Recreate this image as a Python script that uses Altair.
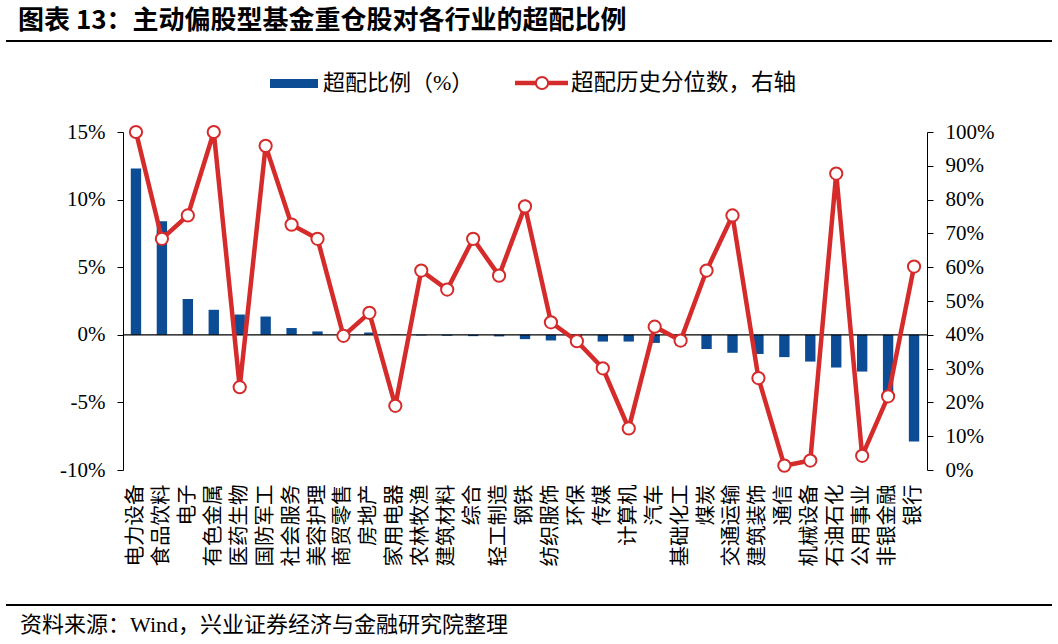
import altair as alt
import pandas as pd

categories = ["电力设备", "食品饮料", "电子", "有色金属", "医药生物", "国防军工", "社会服务", "美容护理",
              "商贸零售", "房地产", "家用电器", "农林牧渔", "建筑材料", "综合", "轻工制造", "钢铁",
              "纺织服饰", "环保", "传媒", "计算机", "汽车", "基础化工", "煤炭", "交通运输", "建筑装饰",
              "通信", "机械设备", "石油石化", "公用事业", "非银金融", "银行"]
overweight = [12.3, 8.4, 2.65, 1.85, 1.5, 1.35, 0.5, 0.25, 0.05, 0.17, 0.03, -0.05, -0.07, -0.1, -0.12,
              -0.32, -0.42, -0.45, -0.5, -0.5, -0.6, -0.8, -1.05, -1.33, -1.42, -1.65, -1.98, -2.42,
              -2.72, -4.4, -7.9]
percentile = [100, 68.4, 75.3, 100, 24.5, 95.9, 72.6, 68.4, 39.7, 46.5, 19.0, 59.0, 53.4, 68.4, 57.5,
              78.0, 43.7, 38.1, 30.1, 12.3, 42.4, 38.3, 59.0, 75.3, 27.2, 1.3, 2.8, 87.7, 4.2, 21.8, 60.2]
left_ticks = [-10, -5, 0, 5, 10, 15]
right_ticks = [0, 10, 20, 30, 40, 50, 60, 70, 80, 90, 100]

title_text = "图表 13：主动偏股型基金重仓股对各行业的超配比例"
legend_bar = "超配比例（%）"
legend_line = "超配历史分位数，右轴"
source_text = "资料来源：Wind，兴业证券经济与金融研究院整理"

BLUE = "#0b4c95"
RED = "#d52b2b"
CJK = "Noto Sans CJK SC"
NUM = "Liberation Serif"

df = pd.DataFrame({"cat": categories, "over": overweight, "pct": percentile})
one = pd.DataFrame({"k": [0]})

W, H = 804, 338
PL, PT = 123, 132

xenc = alt.X("cat:N", sort=categories, title=None,
             scale=alt.Scale(paddingInner=0.6, paddingOuter=0.3),
             axis=alt.Axis(labelAngle=270, domain=False, ticks=False, labelPadding=14,
                           labelFont=CJK, labelFontSize=20.5, labelColor="#000"))

left_scale = alt.Scale(domain=[-10, 15], nice=False, zero=False)
right_scale = alt.Scale(domain=[0, 100], nice=False, zero=False)

axis_common = dict(domainColor="#000", tickColor="#000", tickSize=6, domainWidth=1, tickWidth=1,
                   labelFont=NUM, labelFontSize=21, labelColor="#000", grid=False, labelPadding=12,
                   labelOverlap=False, labelExpr="datum.value + '%'")
right_axis = alt.Axis(values=right_ticks, orient="right", **axis_common)

bars = alt.Chart(df).mark_bar(color=BLUE).encode(
    x=xenc,
    y=alt.Y("over:Q", scale=left_scale, title=None,
            axis=alt.Axis(values=left_ticks, orient="left", **axis_common)),
)
zero = alt.Chart(one).mark_rule(color="#000", strokeWidth=1.2).encode(
    y=alt.datum(0)
)
left_layer = alt.layer(bars, zero)

line = alt.Chart(df).mark_line(color=RED, strokeWidth=4.5).encode(
    x=alt.X("cat:N", sort=categories),
    y=alt.Y("pct:Q", scale=right_scale, title=None, axis=right_axis),
)
points = alt.Chart(df).mark_point(shape="circle", filled=True, fill="white", stroke=RED,
                                  strokeWidth=2, size=150, opacity=1).encode(
    x=alt.X("cat:N", sort=categories),
    y=alt.Y("pct:Q", scale=right_scale, title=None, axis=right_axis),
)
right_layer = alt.layer(line, points)

# decorations (title, rules, legend, source)
title = alt.Chart(one).mark_text(text=title_text, font=CJK, fontSize=26, fontWeight="bold",
                                 align="left", baseline="middle", color="#000").encode(
    x=alt.value(18 - PL), y=alt.value(21 - PT))
top_rule = alt.Chart(one).mark_rule(color="#000", strokeWidth=2).encode(
    x=alt.value(6 - PL), x2=alt.value(1052 - PL), y=alt.value(41 - PT))
bottom_rule = alt.Chart(one).mark_rule(color="#000", strokeWidth=2).encode(
    x=alt.value(6 - PL), x2=alt.value(1052 - PL), y=alt.value(605 - PT))
source = alt.Chart(one).mark_text(text=source_text, font=f"{NUM}, {CJK}", fontSize=22,
                                  align="left", baseline="middle", color="#000").encode(
    x=alt.value(20 - PL), y=alt.value(625 - PT))
leg_rect = alt.Chart(one).mark_rect(color=BLUE).encode(
    x=alt.value(270 - PL), x2=alt.value(318 - PL), y=alt.value(79 - PT), y2=alt.value(88 - PT))
leg_text1 = alt.Chart(one).mark_text(text=legend_bar, font=f"{NUM}, {CJK}", fontSize=22,
                                     align="left", baseline="middle", color="#000").encode(
    x=alt.value(323 - PL), y=alt.value(83 - PT))
leg_line = alt.Chart(one).mark_rule(color=RED, strokeWidth=4.5).encode(
    x=alt.value(515 - PL), x2=alt.value(568 - PL), y=alt.value(83 - PT))
leg_pt = alt.Chart(one).mark_point(shape="circle", filled=True, fill="white", stroke=RED,
                                   strokeWidth=2, size=150, opacity=1).encode(
    x=alt.value(542 - PL), y=alt.value(83 - PT))
leg_text2 = alt.Chart(one).mark_text(text=legend_line, font=CJK, fontSize=22.5,
                                     align="left", baseline="middle", color="#000").encode(
    x=alt.value(571 - PL), y=alt.value(83 - PT))

main = alt.layer(left_layer, right_layer).resolve_scale(y="independent")

chart = alt.layer(
    main, title, top_rule, bottom_rule, source, leg_rect, leg_text1, leg_line, leg_pt, leg_text2
).properties(
    width=W, height=H,
    autosize=alt.AutoSizeParams(type="none"),
    padding={"left": PL, "top": PT, "right": 1058 - PL - W, "bottom": 644 - PT - H},
    background="white",
).configure_view(stroke=None)

chart.save("out.html", embed_options={"renderer": "svg", "actions": False})
